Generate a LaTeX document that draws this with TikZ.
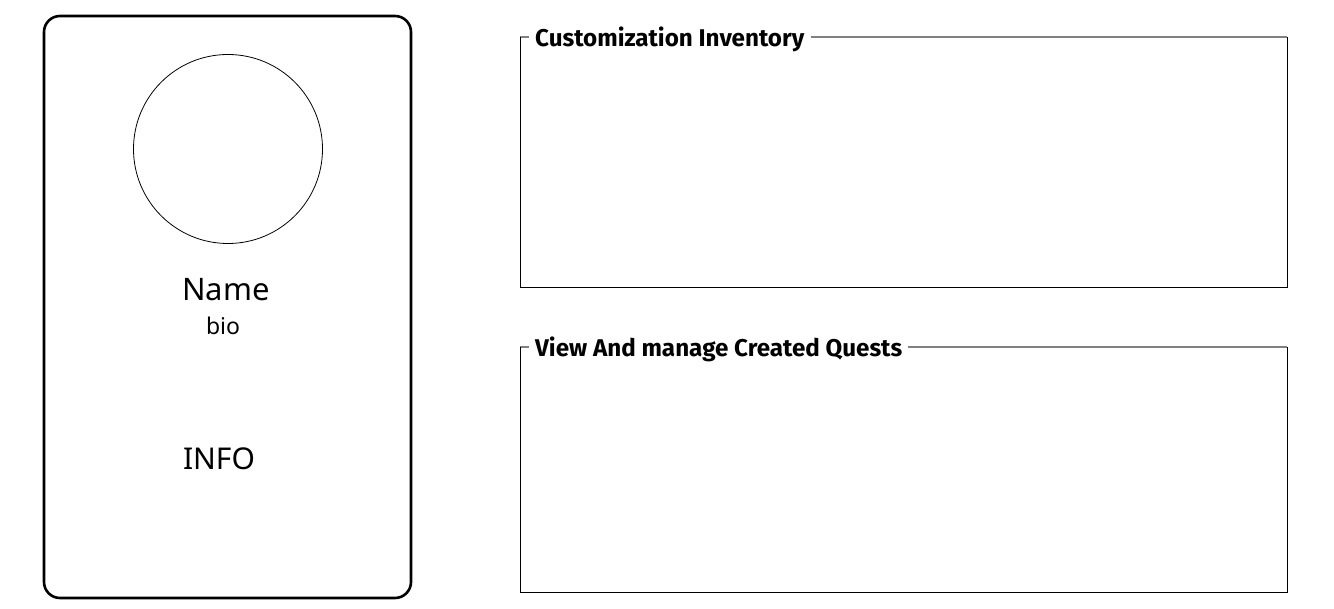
\documentclass[tikz,border=0pt]{standalone}
\usepackage{fontspec}
\setmainfont{Noto Sans}
\newfontfamily\legendfont{Fira Sans}
\usetikzlibrary{positioning}
\tikzset{card/.style = {draw,line width=2.6pt,rounded corners=16pt},
         legend/.style = {font=\legendfont\bfseries\fontsize{24.2}{28}\selectfont,inner sep=0pt,anchor=base west},
         rim/.style = {draw=black!50,line width=1.2pt},
         side/.style = {draw,line width=0.9pt}}

\begin{document}
\begin{tikzpicture}[x=1pt,y=-1pt]
            \useasboundingbox (0,0) rectangle (1334,609);

            % profile card
            \draw[card] (44,16) rectangle (411,598);
            \node [circle,draw,line width=0.8pt,minimum size=189pt,inner sep=0pt] (avatar) at (228,149) {};
            \node [font=\fontsize{31}{36}\selectfont] (name) at (226,290) {Name};
            \node [font=\fontsize{23}{26}\selectfont] (bio) at (223,326) {bio};
            \node [font=\fontsize{30}{34}\selectfont] (info) at (219,459) {INFO};

            % fieldsets
            \coordinate (inv nw) at (520,37);
            \coordinate (inv se) at (1287,287);
            \node [legend] (inv title) at (535,47) {Customization Inventory};
            \draw[rim] (inv nw) -- ++(9,0);
            \draw[rim] ([xshift=6pt]inv title.east |- inv nw) -- (inv se |- inv nw);
            \draw[side] (inv nw) -- (inv nw |- inv se) -- (inv se) -- (inv se |- inv nw);

            \coordinate (quest nw) at (520,347);
            \coordinate (quest se) at (1287,592);
            \node [legend] (quest title) at (535,357) {View And manage Created Quests};
            \draw[rim] (quest nw) -- ++(9,0);
            \draw[rim] ([xshift=6pt]quest title.east |- quest nw) -- (quest se |- quest nw);
            \draw[side] (quest nw) -- (quest nw |- quest se) -- (quest se) -- (quest se |- quest nw);
\end{tikzpicture}
\end{document}
